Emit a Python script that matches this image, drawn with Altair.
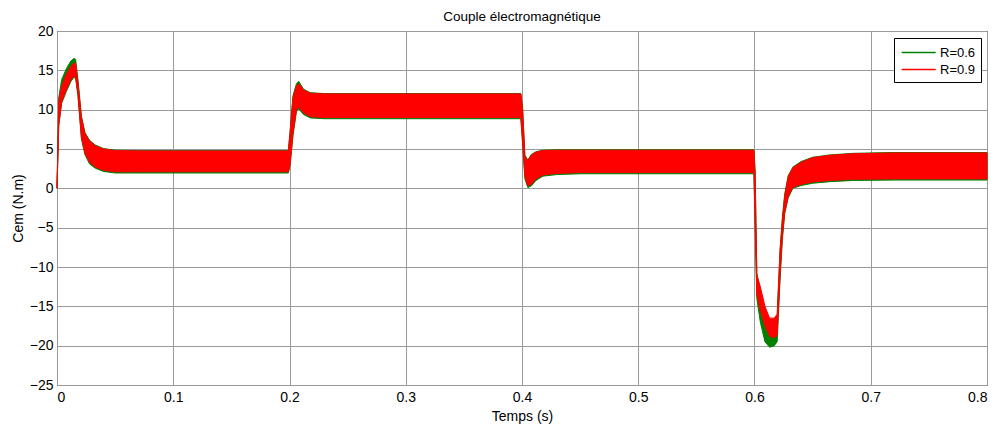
import altair as alt
import pandas as pd

# time points (s)
t = [0, 0.0015, 0.004, 0.008, 0.012, 0.0145, 0.016, 0.018, 0.021, 0.024, 0.028, 0.033,
     0.04, 0.05, 0.07, 0.199, 0.2005, 0.203, 0.206, 0.208, 0.212, 0.218, 0.23, 0.399,
     0.4005, 0.4025, 0.405, 0.408, 0.412, 0.418, 0.43, 0.45, 0.5995, 0.6005, 0.602,
     0.605, 0.609, 0.613, 0.617, 0.6195, 0.622, 0.624, 0.626, 0.629, 0.633, 0.64, 0.65,
     0.665, 0.685, 0.72, 0.8]

# R=0.9 (red) ripple band
red_hi = [0, 11, 13, 14.5, 15.5, 15.9, 15.9, 13.5, 9, 7, 6, 5.4,
          5, 4.8, 4.75, 4.75, 7, 11.5, 13, 13.3, 12.5, 12.1, 12.0, 12.0,
          10, 4, 3.5, 4.2, 4.6, 4.8, 4.85, 4.85, 4.85, 2, -11,
          -12.5, -15, -16.5, -16.5, -16, -8, -4, -1, 1.5, 2.6, 3.3, 3.9,
          4.2, 4.4, 4.5, 4.5]
red_lo = [0, 8, 11, 12.5, 13.8, 14.3, 14.2, 12, 6.5, 4.5, 3.3, 2.7,
          2.3, 2.1, 2.1, 2.1, 3, 7, 10, 10.3, 9.6, 9.1, 9.0, 9.0,
          6, 1.5, 0.3, 0.5, 1.2, 1.7, 1.9, 2.0, 2.0, -4, -13.5,
          -15.5, -17.5, -18.8, -19, -18.7, -11, -6, -3, -1, 0.1, 0.5, 0.8,
          1.0, 1.15, 1.2, 1.2]

# R=0.6 (green) ripple band
green_hi = [0, 11.5, 13.8, 15.2, 16.2, 16.5, 16.4, 13.8, 9.2, 7.1, 6.1, 5.5,
            5.05, 4.85, 4.8, 4.8, 7.3, 11.8, 13.3, 13.6, 12.6, 12.15, 12.05, 12.05,
            10.3, 4.2, 3.6, 4.3, 4.65, 4.85, 4.9, 4.9, 4.9, 2.3, -10.8,
            -13, -15.5, -17, -17, -16.5, -7.7, -3.7, -0.7, 1.6, 2.7, 3.4, 3.95,
            4.25, 4.45, 4.55, 4.55]
green_lo = [0, 8, 10.8, 12.3, 13.6, 14.1, 14.0, 11.8, 6.3, 4.3, 3.1, 2.55,
            2.15, 1.95, 1.95, 1.95, 2.9, 6.7, 9.8, 10.1, 9.4, 8.95, 8.85, 8.85,
            5.7, 1.2, 0.1, 0.3, 1.0, 1.55, 1.75, 1.85, 1.85, -4.5, -14,
            -17, -19.5, -20.2, -20, -19.5, -11.5, -6.5, -3.2, -1.2, 0.0, 0.35, 0.65,
            0.85, 1.0, 1.05, 1.05]

series = ["R=0.6", "R=0.9"]
colors = ["#008000", "#ff0000"]

df = pd.concat([
    pd.DataFrame({"t": t, "lo": green_lo, "hi": green_hi, "s": series[0]}),
    pd.DataFrame({"t": t, "lo": red_lo, "hi": red_hi, "s": series[1]}),
])

x = alt.X("t:Q", title="Temps (s)",
          scale=alt.Scale(domain=[0, 0.8], nice=False, zero=False),
          axis=alt.Axis(values=[0, 0.1, 0.2, 0.3, 0.4, 0.5, 0.6, 0.7, 0.8], format="~g"))
y = alt.Y("lo:Q", title="Cem (N.m)",
          scale=alt.Scale(domain=[-25, 20], nice=False),
          axis=alt.Axis(values=list(range(-25, 21, 5))))
color = alt.Color("s:N", title=None,
                  scale=alt.Scale(domain=series, range=colors),
                  legend=alt.Legend(symbolType="M-0.8,0H3.2", orient="none",
                                    legendX=837, legendY=7))

base = alt.Chart(df).mark_area(strokeWidth=1, opacity=1).encode(
    x=x, y=y, y2="hi:Q", color=color,
    stroke=alt.Stroke("s:N", scale=alt.Scale(domain=series, range=colors), legend=None)
)

chart = alt.layer(
    base.transform_filter(alt.datum.s == series[0]),
    base.transform_filter(alt.datum.s == series[1]),
).properties(
    width=930, height=354,
    title=alt.TitleParams("Couple électromagnétique", fontSize=13.5, font="Liberation Sans",
                          fontWeight="normal", offset=1),
    autosize=alt.AutoSizeParams(type="none"),
    padding={"left": 49, "top": 23, "right": 11, "bottom": 40},
).configure_view(
    stroke="black", strokeWidth=1
).configure_axis(
    grid=True, gridColor="#9a9a9a", gridWidth=1, ticks=False,
    labelFont="Liberation Sans", labelFontSize=14, labelColor="black",
    titleFont="Liberation Sans", titleFontSize=14, titleFontWeight="normal", titleColor="black",
    domain=False,
).configure_axisX(titlePadding=5, labelPadding=5).configure_axisY(titlePadding=4, labelPadding=4
).configure_legend(
    strokeColor="black", fillColor="white", padding=5, labelFont="Liberation Sans",
    labelFontSize=13, labelColor="black", symbolSize=289, symbolStrokeWidth=1.5,
    labelOffset=22, rowPadding=0, cornerRadius=0,
)

chart.save("out.html", embed_options={"renderer": "svg", "actions": False})
